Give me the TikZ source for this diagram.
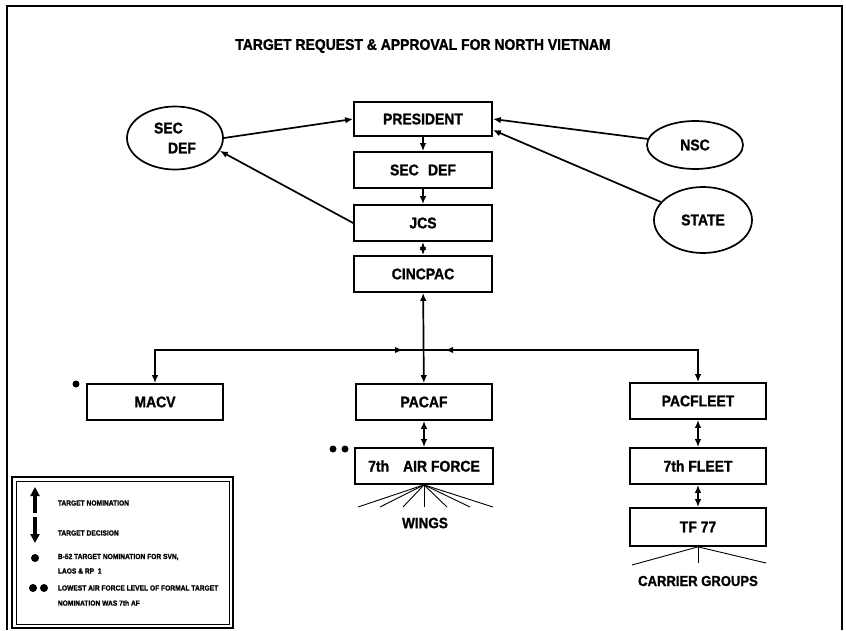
\documentclass[tikz,border=0pt]{standalone}
\usepackage{fontspec}
\setmainfont{Liberation Sans}[FakeStretch=0.9,FakeBold=1.2]
\usetikzlibrary{arrows.meta}
\usetikzlibrary{shapes.geometric}

\begin{document}
\begin{tikzpicture}[
            x=1pt, y=-1pt,
            line width=1.7pt,
            box/.style={rectangle,draw,minimum width=136pt,minimum height=36pt,inner sep=0pt,font=\bfseries\fontsize{15.5}{17}\selectfont},
            oval/.style={ellipse,draw,inner sep=0pt,font=\bfseries\fontsize{15.5}{20}\selectfont},
            tip/.style={-{Latex[length=8pt,width=6.5pt]}},
            both/.style={{Latex[length=8pt,width=6.5pt]}-{Latex[length=8pt,width=6.5pt]}},
            fan/.style={line width=0.9pt},
            dot/.style={circle,fill=black,inner sep=0pt,minimum size=7pt},
            key/.style={anchor=west,inner sep=0pt,font=\bfseries\fontsize{7.4}{8}\selectfont},
            ]
            \useasboundingbox (0,0) rectangle (846,630);

            % frame and legend box
            \draw (7,630) -- (7,6) -- (842,6) -- (842,630);
            \draw[line width=2.2pt] (12,477) rectangle (233,628);
            \draw[line width=0.9pt] (16,481) rectangle (229,624);

            \node[font=\bfseries\fontsize{15.5}{17}\selectfont] (title) at (423,46) {TARGET REQUEST \& APPROVAL FOR NORTH VIETNAM};

            % chain of command
            \node[box, minimum width=138pt, minimum height=34pt] (pres) at (423,119) {PRESIDENT};
            \node[box, minimum width=138pt] (secdef) at (423,170) {SEC\hspace{0.6em}DEF};
            \node[box, minimum width=138pt] (jcs) at (423,223) {JCS};
            \node[box, minimum width=138pt] (cincpac) at (423,274) {CINCPAC};
            \node[oval, minimum width=96pt, minimum height=63pt, align=left] (secdefE) at (175,138) {SEC\\\hspace{0.9em}DEF};
            \node[oval, minimum width=96pt, minimum height=48pt] (nsc) at (695,145) {NSC};
            \node[oval, minimum width=98pt, minimum height=66pt] (state) at (703,220) {STATE};

            \node[box] (macv) at (155,402) {MACV};
            \node[box] (pacaf) at (424,402) {PACAF};
            \node[box] (pacfleet) at (698,401) {PACFLEET};
            \node[box, minimum width=138pt] (af7) at (424,466) {7th\hspace{0.9em}AIR FORCE};
            \node[box] (fleet7) at (698,466) {7th FLEET};
            \node[box, minimum height=38pt] (tf77) at (698,527) {TF 77};

            \coordinate (hub) at (424,350);
            \coordinate (lcorner) at (macv |- hub);
            \coordinate (rcorner) at (pacfleet |- hub);

            \node[dot] (star1) at (76,384) {};
            \node[dot] (star2) at (333,449) {};
            \node[dot] (star3) at (345,449) {};

            % connectors
            \draw[tip] (secdefE.east) -- (pres.west);
            \draw[tip] (jcs.west) -- (secdefE.-16);
            \draw[tip] (nsc) -- (pres.east);
            \draw[tip] (state) -- ([yshift=-11pt]pres.east);
            \draw[tip] (pres) -- (secdef);
            \draw[tip] (secdef) -- (jcs);
            \draw[both] (jcs) -- (cincpac);
            \draw[both] (cincpac) -- (pacaf);
            \draw[tip] (hub) -- (lcorner) -- (macv);
            \draw[tip] (hub) -- (rcorner) -- (pacfleet);
            \draw[tip] (lcorner) -- ([xshift=-21pt]hub);
            \draw[tip] (rcorner) -- ([xshift=21pt]hub);
            \draw[both] (pacaf) -- (af7);
            \draw[both] (pacfleet) -- (fleet7);
            \draw[both] (fleet7) -- (tf77);

            % wings and carrier groups
            \foreach \x in {358,380,403,424,447,470,493}
                \draw[fan] (af7.south) -- (\x,507);
            \node[font=\bfseries\fontsize{15}{17}\selectfont] (wings) at (425,523) {WINGS};
            \foreach \x/\y in {632/565,698/563,766/563}
                \draw[fan] (tf77.south) -- (\x,\y);
            \node[font=\bfseries\fontsize{14.5}{17}\selectfont] (carrier) at (698,581) {CARRIER GROUPS};

            % legend
            \draw[line width=3.4pt, -{Triangle[length=9pt,width=9pt]}] (35,513) -- (35,487);
            \draw[line width=3.4pt, -{Triangle[length=9pt,width=9pt]}] (35,517) -- (35,543);
            \node[dot, minimum size=8pt] (key1) at (35,558) {};
            \node[dot, minimum size=8pt] (key2) at (33,588) {};
            \node[dot, minimum size=8pt] (key3) at (44,588) {};
            \node[key] at (57,503) {TARGET NOMINATION};
            \node[key] at (57,533) {TARGET DECISION};
            \node[key] at (57,557) {B-52 TARGET NOMINATION FOR SVN,};
            \node[key] at (57,571) {LAOS \& RP\hspace{0.5em}1};
            \node[key] at (57,588) {LOWEST AIR FORCE LEVEL OF FORMAL TARGET};
            \node[key] at (57,603) {NOMINATION WAS 7th AF};
\end{tikzpicture}
\end{document}
